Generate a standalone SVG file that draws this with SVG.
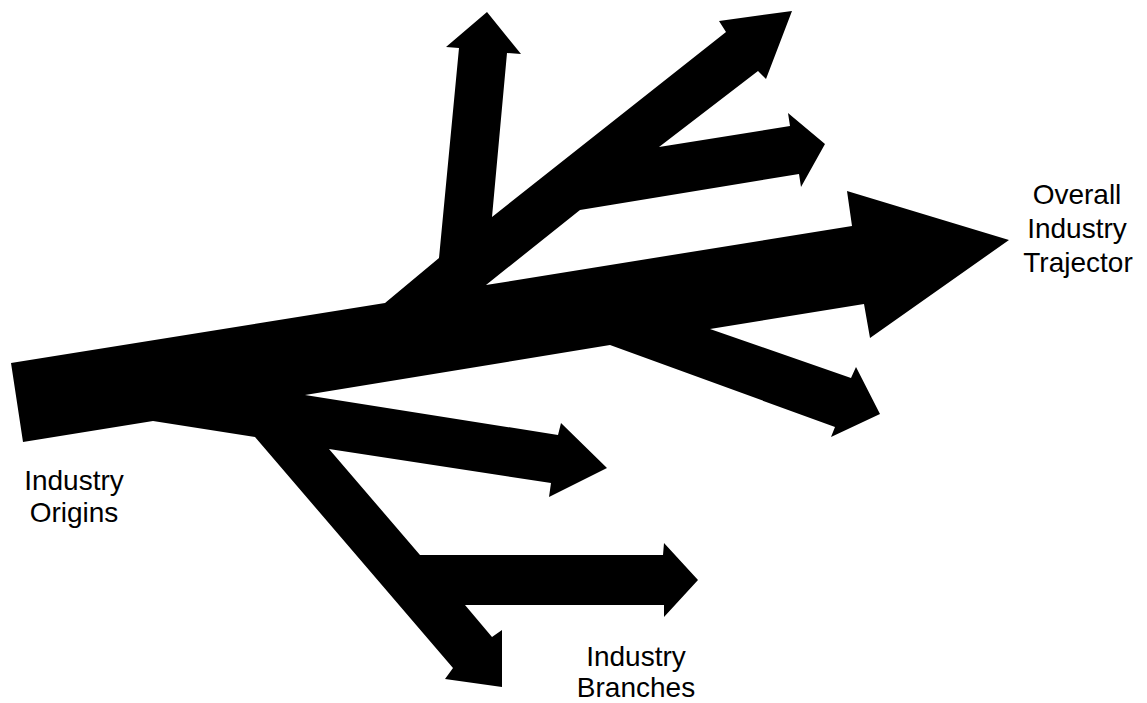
<svg xmlns="http://www.w3.org/2000/svg" width="1147" height="703" viewBox="0 0 1147 703">
<style>
.lbl{font-family:"Liberation Sans",Arial,sans-serif;font-size:28px;fill:#000;text-anchor:middle}
</style>
<rect width="1147" height="703" fill="#fff"/>
<g id="arrows">
<polygon fill="#000" points="11,363 385,303 439,258 459,48 446,47 487,12 521,54 507,53 492,217 726,32 719,21 792,11 766,79 758,71 659,147 790,126 788,113 825,144 801,187 799,174 580,210 486,285 852,226 847,191 1009,240 870,338 864,304 710,329 851,378 856,367 880,414 831,437 835,427 610,345 305,395 558,435 561,423 607,468 549,497 551,483 329,449 420,555 663,555 664,543 698,580 664,617 664,605 465,605 492,637 502,630 502,687 445,679 453,668 255,437 153,421 23,442"/>
</g>
<g id="origins"><text class="lbl" x="74" y="490">Industry</text><text class="lbl" x="74" y="522">Origins</text></g>
<g id="branches"><text class="lbl" x="636" y="666">Industry</text><text class="lbl" x="636" y="697">Branches</text></g>
<g id="trajectory"><text class="lbl" x="1077" y="204">Overall</text><text class="lbl" x="1077" y="238">Industry</text><text class="lbl" x="1078" y="272">Trajector</text></g>
</svg>
